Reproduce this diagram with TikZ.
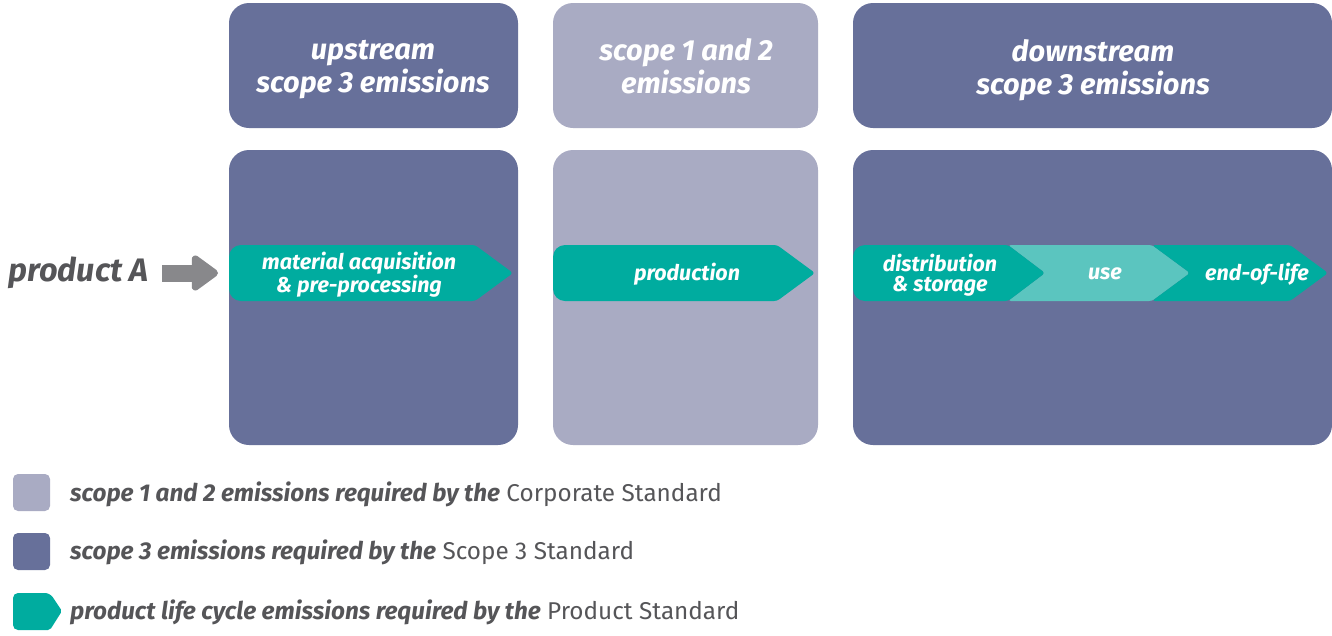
\documentclass[tikz,border=0pt]{standalone}
\usepackage{fontspec}
\setmainfont{Fira Sans}
\usetikzlibrary{arrows.meta}
\definecolor{scopedark}{HTML}{67709A}
\definecolor{scopelight}{HTML}{A9ABC3}
\definecolor{prodteal}{HTML}{00AC9F}
\definecolor{useteal}{HTML}{5BC5BF}
\definecolor{arrowgrey}{HTML}{88888B}
\definecolor{textgrey}{HTML}{555558}
\tikzset{
  headtext/.style={text=white,align=center,font=\fontsize{29}{33}\selectfont\bfseries\itshape},
  chevtext/.style={text=white,align=center,font=\fontsize{21.5}{20.5}\selectfont\bfseries\itshape},
  legtext/.style={text=textgrey,anchor=west,inner sep=0,font=\fontsize{24.3}{28}\selectfont},
  prodarrow/.style={arrowgrey,line width=17pt,-{Triangle[length=29pt,width=40pt,round]}}
}
\begin{document}
\begin{tikzpicture}[x=1pt,y=-1pt]
      \useasboundingbox (0,0) rectangle (1332,635);

      % header boxes
      \fill[scopedark,rounded corners=20] (229,3) rectangle (518,128);
      \fill[scopelight,rounded corners=20] (553,3) rectangle (818,128);
      \fill[scopedark,rounded corners=20] (853,3) rectangle (1332,128);
      \node[headtext] (upHead) at (373,70) {upstream\\scope 3 emissions};
      \node[headtext] (midHead) at (686,66) {scope 1 and 2\\emissions};
      \node[headtext] (downHead) at (1093,70) {downstream\\scope 3 emissions};

      % body boxes
      \fill[scopedark,rounded corners=20] (229,150) rectangle (518,445);
      \fill[scopelight,rounded corners=20] (553,150) rectangle (818,445);
      \fill[scopedark,rounded corners=20] (853,150) rectangle (1332,445);

      % life cycle stages
      \fill[prodteal] (229,273) [rounded corners=12] -- (229,245) -- (320,245) [rounded corners=3] -- (475,245) -- (513,273) -- (475,301) -- (320,301) [rounded corners=12] -- (229,301) -- cycle;
      \fill[prodteal] (553,273) [rounded corners=12] -- (553,245) -- (640,245) [rounded corners=3] -- (777,245) -- (815,273) -- (777,301) -- (640,301) [rounded corners=12] -- (553,301) -- cycle;
      \fill[useteal,rounded corners=3] (1008,245) -- (1152,245) -- (1190,273) -- (1152,301) -- (1008,301) -- (1045,273) -- cycle;
      \fill[prodteal] (853,273) [rounded corners=12] -- (853,245) -- (930,245) [rounded corners=3] -- (1008,245) -- (1045,273) -- (1008,301) -- (930,301) [rounded corners=12] -- (853,301) -- cycle;
      \fill[prodteal,rounded corners=3] (1152,245) -- (1290,245) -- (1328,273) -- (1290,301) -- (1152,301) -- (1190,273) -- cycle;
      \node[chevtext] (material) at (359,275) {material acquisition\\\& pre-processing};
      \node[chevtext] (production) at (687,274) {production};
      \node[chevtext] (distribution) at (940,275) {distribution\\\& storage};
      \node[chevtext] (use) at (1105,274) {use};
      \node[chevtext] (endoflife) at (1257,274) {end-of-life};

      % product
      \node[text=textgrey,anchor=east,inner sep=0,font=\fontsize{32.5}{36}\selectfont\bfseries\itshape] (productA) at (149,273) {product A};
      \coordinate (materialIn) at (229,273);
      \draw[prodarrow,shorten <=13pt,shorten >=11pt] (productA.east) -- (materialIn);

      % legend
      \fill[scopelight,rounded corners=5] (13,474) rectangle (50,511);
      \fill[scopedark,rounded corners=5] (13,533) rectangle (50,570);
      \fill[prodteal,rounded corners=5] (13,611) -- (13,593) -- (50,593) [rounded corners=2] -- (62,611) -- (50,630) [rounded corners=5] -- (13,630) -- cycle;
      \node[legtext] (legCorp) at (70,494) {\textbf{\textit{scope 1 and 2 emissions required by the}} Corporate Standard};
      \node[legtext] (legScope) at (70,552) {\textbf{\textit{scope 3 emissions required by the}} Scope 3 Standard};
      \node[legtext] (legProd) at (70,612) {\textbf{\textit{product life cycle emissions required by the}} Product Standard};
   \end{tikzpicture}
\end{document}
